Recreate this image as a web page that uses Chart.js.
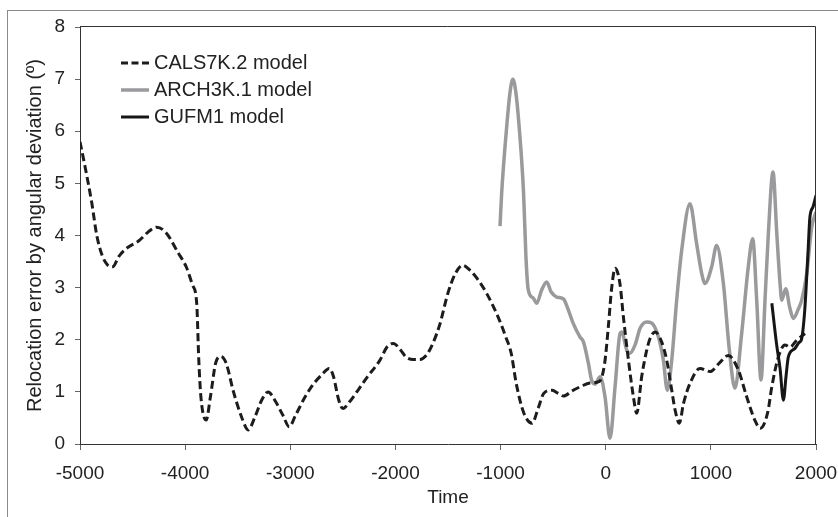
<!DOCTYPE html>
<html>
<head>
<meta charset="utf-8">
<script src="https://cdn.jsdelivr.net/npm/chart.js@4.4.0/dist/chart.umd.min.js"></script>
<style>
html,body{margin:0;padding:0;background:#fff;}
#wrap{position:relative;width:838px;height:517px;overflow:hidden;background:#fff;}
#frame{position:absolute;left:7px;top:10px;width:900px;height:600px;border-left:1px solid #8a8a8a;border-top:1px solid #8a8a8a;}
canvas{position:absolute;left:0;top:0;}
</style>
</head>
<body>
<div id="wrap"><div id="frame"></div><canvas id="c" width="838" height="517"></canvas></div>
<script>
// ---- data ----
const xTicks = [-5000, -4000, -3000, -2000, -1000, 0, 1000, 2000];
const yTicks = [0, 1, 2, 3, 4, 5, 6, 7, 8];

const calsYears = [-5000,-4950,-4890,-4840,-4790,-4740,-4690,-4630,-4560,-4440,-4350,-4270,-4180,-4070,-3990,-3930,-3890,-3870,-3850,-3800,-3760,-3710,-3660,-3610,-3540,-3460,-3400,-3340,-3270,-3210,-3150,-3070,-3010,-2950,-2860,-2780,-2700,-2630,-2590,-2540,-2500,-2440,-2350,-2270,-2150,-2080,-2020,-1950,-1900,-1830,-1770,-1700,-1640,-1580,-1500,-1430,-1360,-1300,-1240,-1130,-1020,-950,-900,-850,-780,-700,-640,-590,-510,-450,-400,-320,-240,-150,-60,-10,25,57,90,135,168,216,263,295,342,390,421,470,532,580,628,660,700,740,801,897,992,1080,1166,1261,1340,1420,1470,1540,1580,1642,1705,1753,1816,1895];
const calsValues = [5.8,5.3,4.65,4.0,3.62,3.44,3.4,3.6,3.75,3.9,4.07,4.16,4.05,3.68,3.4,3.05,2.7,1.6,0.9,0.46,0.9,1.55,1.68,1.55,1.0,0.5,0.27,0.5,0.85,1.0,0.85,0.55,0.33,0.55,0.9,1.15,1.33,1.45,1.3,0.85,0.68,0.8,1.05,1.28,1.6,1.86,1.93,1.8,1.67,1.62,1.62,1.72,1.95,2.28,2.9,3.27,3.43,3.35,3.22,2.88,2.42,2.05,1.75,1.15,0.6,0.4,0.7,0.97,1.03,0.97,0.92,1.02,1.1,1.17,1.2,1.55,2.25,3.0,3.37,3.08,2.44,1.61,0.91,0.59,1.29,1.8,2.02,2.15,1.96,1.61,1.03,0.65,0.4,0.78,1.16,1.45,1.39,1.55,1.7,1.42,0.91,0.45,0.3,0.6,1.1,1.67,1.9,1.86,1.99,2.12];

const archYears = [-1005,-990,-942,-910,-883,-855,-823,-781,-759,-736,-690,-656,-610,-561,-520,-466,-400,-370,-308,-244,-212,-165,-135,-102,-54,-7,41,89,136,152,200,231,279,327,390,437,500,548,586,628,675,723,801,865,913,944,1008,1055,1119,1176,1229,1293,1356,1398,1436,1477,1515,1547,1591,1627,1658,1674,1712,1750,1784,1830,1864,1912,1959,2000];
const archValues = [4.18,4.8,6.08,6.75,7.0,6.75,6.08,4.8,3.6,2.95,2.8,2.7,2.95,3.11,2.92,2.82,2.78,2.65,2.31,2.05,1.96,1.55,1.23,1.15,1.29,0.91,0.11,1.1,2.12,2.15,1.8,1.74,1.9,2.22,2.34,2.32,2.06,1.61,1.03,1.61,2.76,3.72,4.61,3.84,3.27,3.08,3.4,3.81,3.08,1.8,1.07,2.12,3.4,3.94,2.76,1.23,2.76,4.04,5.22,4.04,3.08,2.76,2.98,2.62,2.41,2.58,2.76,3.27,4.16,4.45];

const gufmYears = [1580,1624,1658,1690,1715,1737,1798,1840,1861,1893,1925,1942,1972,2000];
const gufmValues = [2.7,1.93,1.45,0.84,1.3,1.67,1.83,1.95,2.0,2.57,3.72,4.35,4.55,4.77];

const seriesLabels = ['CALS7K.2 model', 'ARCH3K.1 model', 'GUFM1 model'];
const xTitle = 'Time';
const yTitle = 'Relocation error by angular deviation (º)';

const toPts = (xs, ys) => xs.map((x, i) => ({x: x, y: ys[i]}));

const FONT = 'Liberation Sans, Arial, Helvetica, sans-serif';
const TXT = '#222';

const frameAndLegend = {
  id: 'frameAndLegend',
  afterDraw(chart) {
    const {ctx, chartArea: a} = chart;
    ctx.save();
    ctx.strokeStyle = '#333';
    ctx.lineWidth = 1;
    ctx.setLineDash([]);
    ctx.beginPath();
    ctx.moveTo(a.left, a.top - 0.5);
    ctx.lineTo(a.right - 0.5, a.top - 0.5);
    ctx.lineTo(a.right - 0.5, a.bottom);
    ctx.stroke();
    // legend
    const rows = [63, 90, 117];
    ctx.font = '20px ' + FONT;
    ctx.textBaseline = 'middle';
    ctx.textAlign = 'left';
    chart.data.datasets.forEach((ds, i) => {
      const y = rows[i];
      ctx.strokeStyle = ds.borderColor;
      ctx.lineWidth = ds.borderWidth;
      ctx.setLineDash(ds.borderDash && ds.borderDash.length ? [7, 3.5] : []);
      ctx.beginPath();
      ctx.moveTo(121, y);
      ctx.lineTo(149, y);
      ctx.stroke();
      ctx.fillStyle = TXT;
      ctx.fillText(ds.label, 154, y);
    });
    ctx.restore();
  }
};

new Chart(document.getElementById('c'), {
  type: 'line',
  data: {
    datasets: [
      {label: seriesLabels[0], data: toPts(calsYears, calsValues), borderColor: '#1c1c1c', borderWidth: 3, borderDash: [8, 4], pointRadius: 0, cubicInterpolationMode: 'monotone', fill: false, order: 1},
      {label: seriesLabels[1], data: toPts(archYears, archValues), borderColor: '#9a9a9c', borderWidth: 3.5, pointRadius: 0, cubicInterpolationMode: 'monotone', fill: false, order: 2},
      {label: seriesLabels[2], data: toPts(gufmYears, gufmValues), borderColor: '#161616', borderWidth: 3, pointRadius: 0, cubicInterpolationMode: 'monotone', fill: false, order: 0}
    ]
  },
  options: {
    responsive: false,
    devicePixelRatio: 1,
    animation: false,
    layout: {padding: {top: 27, right: 22, bottom: 0, left: 0}},
    plugins: {legend: {display: false}, tooltip: {enabled: false}},
    scales: {
      x: {
        type: 'linear', min: xTicks[0], max: xTicks[xTicks.length - 1],
        afterBuildTicks: s => { s.ticks = xTicks.map(v => ({value: v})); },
        afterFit: s => { s.height = 73; s.paddingLeft = 0; s.paddingRight = 0; },
        grid: {display: true, drawOnChartArea: false, drawTicks: true, tickLength: 6, color: '#666', tickColor: '#666'},
        border: {display: true, color: '#333', width: 1},
        ticks: {font: {family: FONT, size: 19}, color: TXT, padding: 12, maxRotation: 0, autoSkip: false, callback: v => String(v)},
        title: {display: true, text: xTitle, font: {family: FONT, size: 19}, color: TXT, padding: {top: 0, bottom: 8}}
      },
      y: {
        type: 'linear', min: yTicks[0], max: yTicks[yTicks.length - 1],
        afterBuildTicks: s => { s.ticks = yTicks.map(v => ({value: v})); },
        afterFit: s => { s.width = 80; s.paddingTop = 0; s.paddingBottom = 0; },
        grid: {display: true, drawOnChartArea: false, drawTicks: true, tickLength: 5, color: '#666', tickColor: '#666'},
        border: {display: true, color: '#333', width: 1},
        ticks: {font: {family: FONT, size: 19}, color: TXT, padding: 10, callback: v => String(v)},
        title: {display: true, text: yTitle, font: {family: FONT, size: 20}, color: TXT, padding: {top: 23, bottom: 0}}
      }
    }
  },
  plugins: [frameAndLegend]
});
</script>
</body>
</html>
